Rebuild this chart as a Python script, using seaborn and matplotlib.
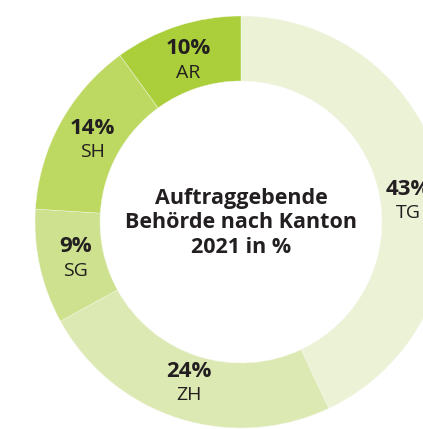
import numpy as np
import seaborn as sns
import matplotlib.pyplot as plt

# data
cantons = ["TG", "ZH", "SG", "SH", "AR"]
shares = [43, 24, 9, 14, 10]
colors = ["#ebf2d6", "#dde9b3", "#cde18f", "#bdd961", "#abcf3b"]
title_lines = ["Auftraggebende", "Behörde nach Kanton", "2021 in %"]

sns.set_theme(style="white")
plt.rcParams["font.family"] = ["Open Sans", "DejaVu Sans"]

W, H = 423, 429
fig = plt.figure(figsize=(W / 100, H / 100), dpi=100)
ax = fig.add_axes([0, 0, 1, 1])

cx, cy = 241, H - 222
r_out, ring = 206, 65
wedges, _ = ax.pie(
    shares, colors=colors, startangle=90, counterclock=False,
    center=(cx, cy), radius=r_out,
    wedgeprops=dict(width=ring, edgecolor="#f6f9ee", linewidth=0.3),
)
ax.set_xlim(0, W)
ax.set_ylim(0, H)
ax.set_aspect("equal")
ax.axis("off")

ink = "#231f20"
r_lab = r_out - ring / 2 - 4
for w, name, val in zip(wedges, cantons, shares):
    ang = np.deg2rad((w.theta1 + w.theta2) / 2)
    x = cx + r_lab * np.cos(ang)
    y = cy + r_lab * np.sin(ang)
    if name == "TG":
        x, y = x + 2, y - 16
    ax.text(x, y + 12, f"{val}%", ha="center", va="center",
            fontsize=16, fontweight="bold", color=ink)
    ax.text(x, y - 12, name, ha="center", va="center",
            fontsize=14, color=ink)

ax.text(cx, cy - 1, "\n".join(title_lines), ha="center", va="center",
        fontsize=15.5, fontweight="bold", color=ink, linespacing=1.2)

fig.savefig("out.png", dpi=100)
